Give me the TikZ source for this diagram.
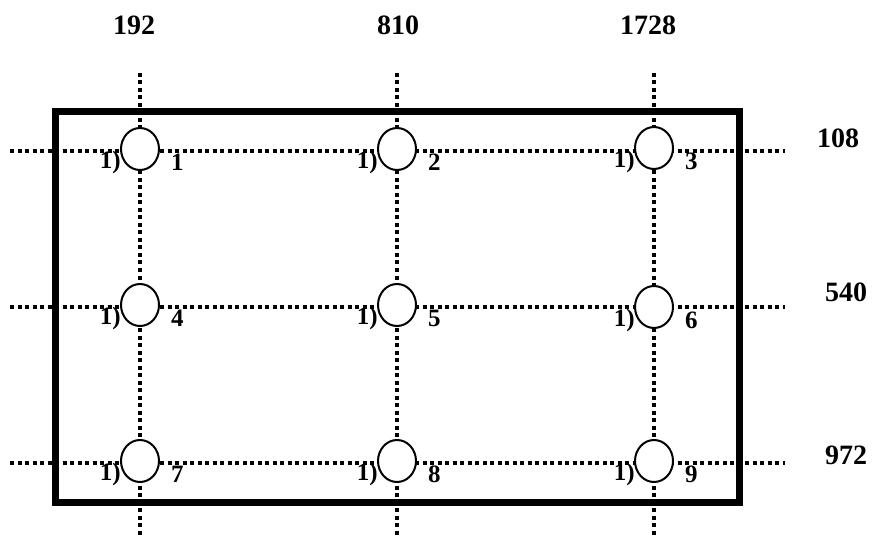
\documentclass[tikz,border=0pt]{standalone}
\usepackage{fontspec}
\setmainfont{Liberation Serif}
\usetikzlibrary{shapes.geometric}

\tikzset{
  grid line/.style={line width=3.5pt, dash pattern=on 4pt off 3.5pt},
  plate/.style={draw, line width=7pt, minimum width=684pt, minimum height=390pt, inner sep=0pt},
  hole/.style={draw, ellipse, line width=2pt, fill=white, minimum width=38pt, minimum height=42pt, inner sep=0pt},
  axis label/.style={font=\fontsize{28}{28}\selectfont\bfseries},
  hole label/.style={font=\fontsize{25}{25}\selectfont\bfseries, inner sep=0pt},
}

\begin{document}
\begin{tikzpicture}[x=1pt,y=-1pt]
  \useasboundingbox (0,0) rectangle (872,537);
  \foreach \name/\x/\lx/\val in {a/140/134/192, b/397/398/810, c/654/648/1728} {
    \coordinate (top\name) at (\x,73);
    \coordinate (bot\name) at (\x,535);
    \draw[grid line] (top\name) -- (bot\name);
    \node[axis label] (col\name) at (\lx,25) {\val};
  }
  \foreach \name/\y/\lx/\ly/\val in {a/151/838/138/108, b/307/846/292/540, c/463/846/455/972} {
    \coordinate (left\name) at (10,\y);
    \coordinate (right\name) at (785,\y);
    \draw[grid line] (left\name) -- (right\name);
    \node[axis label] (row\name) at (\lx,\ly) {\val};
  }
  \node[plate] (frame) at (397,307) {};
  \foreach \n/\x/\y in {1/140/149, 2/397/149, 3/654/148,
                        4/140/305, 5/397/305, 6/654/307,
                        7/140/461, 8/397/461, 9/654/461} {
    \node[hole] (h\n) at (\x,\y) {};
    \node[hole label, anchor=east] (p\n) at ([xshift=1pt,yshift=-13pt]h\n.west) {1)};
    \node[hole label, anchor=west] (n\n) at ([xshift=11pt,yshift=-13pt]h\n.east) {\n};
  }
\end{tikzpicture}
\end{document}
